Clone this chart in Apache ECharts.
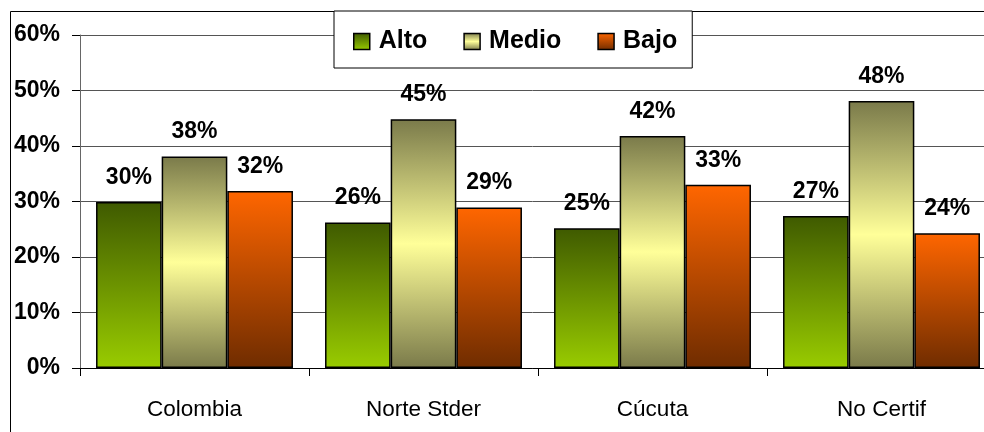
<!DOCTYPE html>
<html>
<head>
<meta charset="utf-8">
<script src="https://cdn.jsdelivr.net/npm/echarts@6/dist/echarts.min.js"></script>
<style>
  html, body { margin: 0; padding: 0; background: #fff; }
  #chart { width: 984px; height: 432px; }
</style>
</head>
<body>
<div id="chart"></div>
<script>
var categories = ["Colombia", "Norte Stder", "Cúcuta", "No Certif"];
var alto = [29.9, 26.2, 25.2, 27.4];
var medio = [38.1, 44.8, 41.8, 48.1];
var bajo = [31.9, 28.9, 33.0, 24.3];

var myChart = echarts.init(document.getElementById("chart"));

function grad(stops) {
  return new echarts.graphic.LinearGradient(0, 0, 0, 1, stops);
}

var labelStyle = {
  show: true,
  position: "top",
  distance: 13,
  fontFamily: "Liberation Sans, Arial",
  fontWeight: "bold",
  fontSize: 23,
  color: "#000",
  formatter: function (p) {
    return Math.round(p.value) + "%";
  }
};

function makeSeries(name, data, color) {
  return {
    name: name,
    type: "bar",
    data: data,
    barGap: "0%",
    barCategoryGap: "14%",
    itemStyle: {
      color: color,
      borderColor: "#000",
      borderWidth: 1.5
    },
    label: labelStyle
  };
}

var option = {
  animation: false,
  backgroundColor: "#fff",
  graphic: [
    {
      type: "rect",
      shape: { x: 10.5, y: 11.5, width: 1000, height: 500 },
      style: { fill: "none", stroke: "#000", lineWidth: 1 },
      z: 0
    }
  ],
  legend: {
    left: 334,
    top: 11,
    padding: [18, 15, 14, 19],
    itemGap: 36,
    itemWidth: 16,
    itemHeight: 16,
    icon: "rect",
    backgroundColor: "#fff",
    borderColor: "#000",
    borderWidth: 1,
    z: 10,
    textStyle: {
      fontFamily: "Liberation Sans, Arial",
      fontWeight: "bold",
      fontSize: 25,
      color: "#000",
      padding: [0, 0, 0, 4]
    },
    itemStyle: { borderColor: "#000", borderWidth: 1.5 }
  },
  grid: {
    left: 80,
    width: 916,
    top: 35,
    bottom: 64,
    outerBoundsMode: "none",
    containLabel: false
  },
  xAxis: {
    type: "category",
    data: categories,
    axisLine: { lineStyle: { color: "#000", width: 1 } },
    axisTick: { show: true, length: 8, lineStyle: { color: "#000" } },
    axisLabel: {
      margin: 30,
      fontFamily: "Liberation Sans, Arial",
      fontSize: 22.5,
      color: "#000"
    }
  },
  yAxis: {
    type: "value",
    min: 0,
    max: 60,
    interval: 10,
    axisLine: { show: true, lineStyle: { color: "#666", width: 1 } },
    axisTick: { show: true, length: 8, lineStyle: { color: "#000" } },
    splitLine: { lineStyle: { color: "#555", width: 1 } },
    axisLabel: {
      margin: 20,
      fontFamily: "Liberation Sans, Arial",
      fontWeight: "bold",
      fontSize: 23,
      color: "#000",
      formatter: "{value}%"
    }
  },
  series: [
    makeSeries("Alto", alto, grad([
      { offset: 0, color: "#3f5a00" },
      { offset: 1, color: "#99cc00" }
    ])),
    makeSeries("Medio", medio, grad([
      { offset: 0, color: "#7a7a4a" },
      { offset: 0.5, color: "#ffff99" },
      { offset: 1, color: "#7a7a4a" }
    ])),
    makeSeries("Bajo", bajo, grad([
      { offset: 0, color: "#ff6600" },
      { offset: 1, color: "#6f2c00" }
    ]))
  ]
};

myChart.setOption(option);
</script>
</body>
</html>
